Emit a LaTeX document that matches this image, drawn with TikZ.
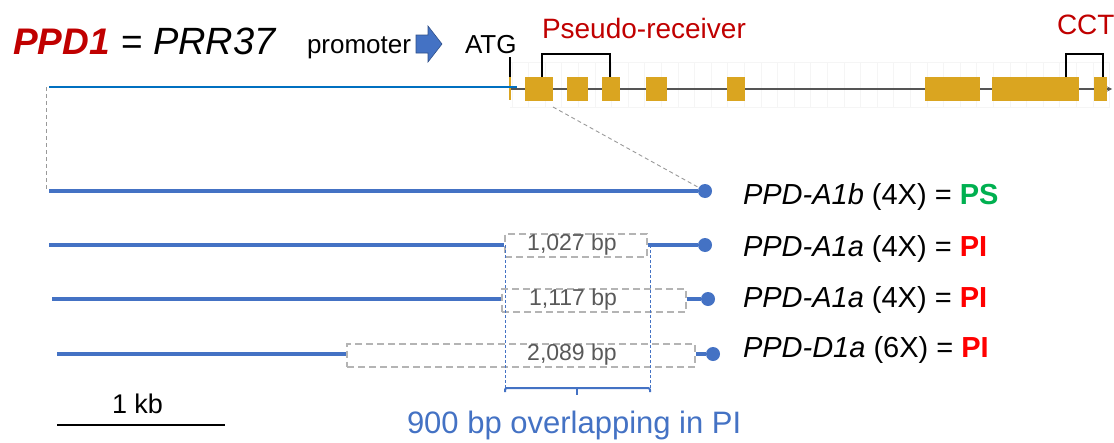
\documentclass[tikz,border=0pt]{standalone}
\usepackage{fontspec}
\setmainfont{Liberation Sans}
\usetikzlibrary{arrows.meta}
\definecolor{tred}{HTML}{C00000}
\definecolor{pired}{HTML}{FF0000}
\definecolor{psgreen}{HTML}{00B050}
\definecolor{rowblue}{HTML}{4472C4}
\definecolor{promblue}{HTML}{0070C0}
\definecolor{exongold}{HTML}{DAA520}
\definecolor{geneline}{HTML}{555555}
\definecolor{bpgray}{HTML}{595959}
\definecolor{boxgray}{HTML}{B4B4B4}
\newcommand{\fs}[1]{\fontsize{#1}{#1}\selectfont}
\begin{document}
\begin{tikzpicture}[x=1pt,y=-1pt,
  txt/.style={inner sep=0pt,outer sep=0pt,anchor=base west},
  exon/.style={fill=exongold,draw=none},
  gridl/.style={draw=black!4,line width=0.8pt},
  rowline/.style={draw=rowblue,line width=3.6pt},
  dot/.style={circle,fill=rowblue,draw=none,minimum size=14pt,inner sep=0pt},
  bpbox/.style={draw=boxgray,dash pattern=on 7pt off 4pt,line width=2pt,inner sep=0pt,minimum height=23pt},
  bptext/.style={inner sep=0pt,text=bpgray,font=\fs{23}},
  guide/.style={draw=black!40,dash pattern=on 4pt off 3pt,line width=0.9pt},
  ovl/.style={draw=rowblue,dash pattern=on 3pt off 2pt,line width=1pt},
  bracket/.style={draw=black,line width=1.2pt}]
\useasboundingbox (0,0) rectangle (1114,442);
% title
\node[txt,text=tred,font=\fs{37}\bfseries\itshape] (ppd) at (13,54) {PPD1};
\node[txt,font=\fs{37}] (eq) at (121,54) {=};
\node[txt,font=\fs{38}\itshape] (prr) at (153,54) {PRR37};
\node[txt,font=\fs{26}] (prom) at (307,53) {promoter};
\node[txt,font=\fs{26}] (atg) at (465,53) {ATG};
\node[txt,text=tred,font=\fs{28}] (psr) at (542,38) {Pseudo-receiver};
\node[txt,text=tred,font=\fs{28}] (cct) at (1057,34) {CCT};
% promoter arrow
\draw[fill=rowblue,draw=rowblue!70!black,line width=0.6pt] (416,35) -- (428,35) -- (428,26) -- (442,44) -- (428,62) -- (428,53) -- (416,53) -- cycle;
% grid
\foreach \i in {0,...,36} \draw[gridl] ({512+\i*16.6},62) -- ({512+\i*16.6},107);
\draw[gridl] (510,62) -- (1110,62);
\draw[gridl] (510,107) -- (1110,107);
% gene line
\coordinate (gs) at (510,89);
\coordinate (ge) at (1112,89);
\draw[draw=geneline,line width=2pt,-{Stealth[length=5pt,width=5pt]}] (gs) -- (ge);
% exons
\foreach \a/\b in {525/553,567/588,602/620,646/667,727/745,925/980,992/1079,1094/1107}
  \fill[exongold] (\a,77) rectangle (\b,101);
% ATG tick
\coordinate (atgt) at (510,57);
\coordinate (atgm) at (510,77);
\coordinate (atgb) at (510,100);
\draw[black,line width=1.2pt] (atgt) -- (atgm);
\draw[exongold,line width=1.2pt] (atgm) -- (atgb);
% promoter line
\coordinate (ps) at (49,87);
\coordinate (pe) at (517,87);
\draw[draw=promblue,line width=2.7pt] (ps) -- (pe);
% brackets
\draw[bracket] (542,77) -- (542,54) -- (610,54) -- (610,77);
\draw[bracket] (1066,77) -- (1066,54) -- (1103,54) -- (1103,77);
% rows
\node[dot] (c1) at (705,191) {};
\node[dot] (c2) at (705,245) {};
\node[dot] (c3) at (708,299) {};
\node[dot] (c4) at (713,354) {};
\coordinate (s1) at (49,191);
\coordinate (s2) at (49,245);
\coordinate (s3) at (52,299);
\coordinate (s4) at (57,354);
\node[bpbox,minimum width=142pt] (b1) at (576,245) {};
\node[bpbox,minimum width=184pt] (b2) at (594,300) {};
\node[bpbox,minimum width=348pt] (b3) at (521,355) {};
\node[bptext] (t1) at (572,245) {1,027 bp};
\node[bptext] (t2) at (573,300) {1,117 bp};
\node[bptext] (t3) at (572,355) {2,089 bp};
\draw[rowline] (s1) -- (c1);
\draw[rowline] (s2) -- (b1.west);
\draw[rowline] (b1.east) -- (c2);
\draw[rowline] (s3) -- (b2.west |- s3);
\draw[rowline] (b2.east |- s3) -- (c3);
\draw[rowline] (s4) -- (b3.west |- s4);
\draw[rowline] (b3.east |- s4) -- (c4);
% guides
\coordinate (g1) at (46,87);
\coordinate (g2) at (46,190);
\draw[guide] (g1) -- (g2);
\coordinate (d1) at (553,107);
\draw[guide] (d1) -- (c1);
% overlap bracket
\coordinate (ol) at (505,245);
\coordinate (or) at (650,245);
\coordinate (olb) at (505,388);
\coordinate (orb) at (650,388);
\coordinate (om) at (577,388);
\coordinate (omb) at (577,395);
\draw[ovl] (ol) -- (olb);
\draw[ovl] (or) -- (orb);
\draw[draw=rowblue,line width=2pt,rounded corners=2pt] ([yshift=-4pt]olb) -- (olb) -- (orb) -- ([yshift=-4pt]orb);
\draw[draw=rowblue,line width=2pt] (om) -- (omb);
\node[txt,text=rowblue,font=\fs{31}] (ovt) at (407,433) {900 bp overlapping in PI};
% scale bar
\coordinate (sb1) at (57,425);
\coordinate (sb2) at (225,425);
\draw[black,line width=1.4pt] (sb1) -- (sb2);
\node[txt,font=\fs{27}] (kb) at (112,413) {1 kb};
% labels
\node[txt,font=\fs{29}] (l1) at (743,204) {\textit{PPD-A1b} (4X) = {\color{psgreen}\bfseries PS}};
\node[txt,font=\fs{29}] (l2) at (743,256) {\textit{PPD-A1a} (4X) = {\color{pired}\bfseries PI}};
\node[txt,font=\fs{29}] (l3) at (743,307) {\textit{PPD-A1a} (4X) = {\color{pired}\bfseries PI}};
\node[txt,font=\fs{29}] (l4) at (743,357) {\textit{PPD-D1a} (6X) = {\color{pired}\bfseries PI}};
\end{tikzpicture}
\end{document}
